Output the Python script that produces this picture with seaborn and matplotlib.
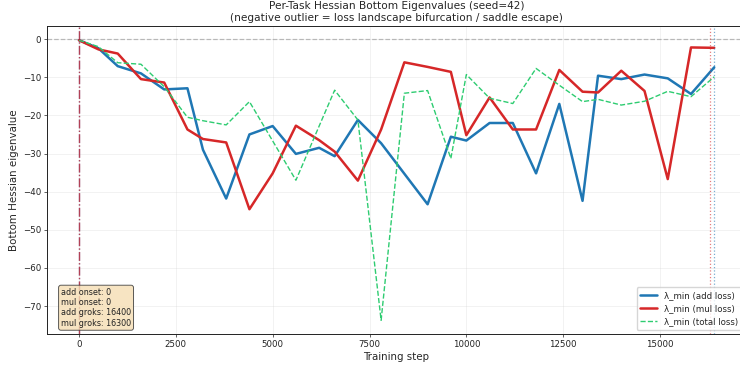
import numpy as np
import matplotlib
matplotlib.use("Agg")
import matplotlib.pyplot as plt
import seaborn as sns

# checkpoints where the bottom Hessian eigenvalue was measured
steps = [0, 500, 1000, 1600, 2200, 2800, 3200, 3800, 4400, 5000, 5600, 6200, 6600,
         7200, 7800, 8400, 9000, 9600, 10000, 10600, 11200, 11800, 12400, 13000,
         13400, 14000, 14600, 15200, 15800, 16400]

# lambda_min per loss
lam_add = [-0.3, -2.4, -7.1, -9.0, -13.2, -12.9, -29.0, -41.8, -25.0, -22.8, -30.1,
           -28.5, -30.7, -21.2, -27.3, -35.3, -43.3, -25.6, -26.6, -22.0, -22.0,
           -35.2, -17.0, -42.4, -9.6, -10.5, -9.3, -10.3, -14.4, -7.4]
lam_mul = [-0.3, -2.7, -3.8, -10.5, -11.4, -23.7, -26.2, -27.1, -44.6, -35.2, -22.7,
           -26.5, -29.5, -37.1, -23.7, -6.1, -7.3, -8.6, -25.2, -15.3, -23.7, -23.7,
           -8.1, -13.8, -14.0, -8.3, -13.6, -36.7, -2.2, -2.3]
lam_total = [-0.3, -2.0, -6.2, -6.6, -12.5, -20.5, -21.4, -22.5, -16.4, -26.7, -37.0,
             -22.8, -13.4, -21.2, -73.7, -14.2, -13.5, -31.3, -9.3, -15.5, -16.9,
             -7.7, -12.1, -16.4, -15.8, -17.3, -16.3, -13.7, -15.1, -9.9]

add_onset, mul_onset = 0, 0
add_groks, mul_groks = 16400, 16300

sns.set_style("ticks")
plt.rcParams['font.family'] = ['DejaVu Sans']

fig = plt.figure(figsize=(7.4, 3.66), dpi=100)
ax = fig.add_axes([47 / 740, 32 / 366, 699 / 740, 308.3 / 366])

sns.lineplot(x=steps, y=lam_add, ax=ax, color="#1f77b4", linewidth=1.8,
             label="λ_min (add loss)")
sns.lineplot(x=steps, y=lam_mul, ax=ax, color="#d62728", linewidth=1.8,
             label="λ_min (mul loss)")
sns.lineplot(x=steps, y=lam_total, ax=ax, color="#2ecc71", linewidth=1.0,
             linestyle="--", label="λ_min (total loss)")

ax.axhline(0, color="gray", linestyle="--", linewidth=0.9, alpha=0.5)
ax.axvline(add_onset, color="#1f77b4", linestyle="-.", linewidth=1.0, alpha=0.35)
ax.axvline(mul_onset, color="#b52035", linestyle="-.", linewidth=1.0, alpha=0.8)
ax.axvline(add_groks, color="#1f77b4", linestyle=":", linewidth=0.9, alpha=0.6)
ax.axvline(mul_groks, color="#d62728", linestyle=":", linewidth=0.9, alpha=0.6)

ax.set_xlim(-826, 17220)
ax.set_ylim(-77.3, 3.5)
ax.grid(True, alpha=0.3, linewidth=0.6)

ax.set_xlabel("Training step", fontsize=7.4, labelpad=2)
ax.set_ylabel("Bottom Hessian eigenvalue", fontsize=7.4, labelpad=3)
ax.set_title("Per-Task Hessian Bottom Eigenvalues (seed=42)\n"
             "(negative outlier = loss landscape bifurcation / saddle escape)",
             fontsize=7.6, pad=3.7)
ax.tick_params(labelsize=6.2, length=2.2, width=0.5, pad=2, colors="#222222")
for s in ax.spines.values():
    s.set_linewidth(0.7)
    s.set_color("#222222")
sns.despine(ax=ax, top=False, right=False)

info = (f"add onset: {add_onset}\nmul onset: {mul_onset}\n"
        f"add groks: {add_groks}\nmul groks: {mul_groks}")
ax.text(0.02, 0.02, info, transform=ax.transAxes, va="bottom", ha="left",
        fontsize=5.8, color="#222222",
        bbox=dict(boxstyle="round", facecolor="wheat", edgecolor="#333333",
                  linewidth=0.7, alpha=0.8))

leg = ax.legend(loc="lower right", fontsize=6.2, framealpha=0.8)
leg.get_frame().set_edgecolor("#cccccc")

fig.savefig("out.png", dpi=100)
